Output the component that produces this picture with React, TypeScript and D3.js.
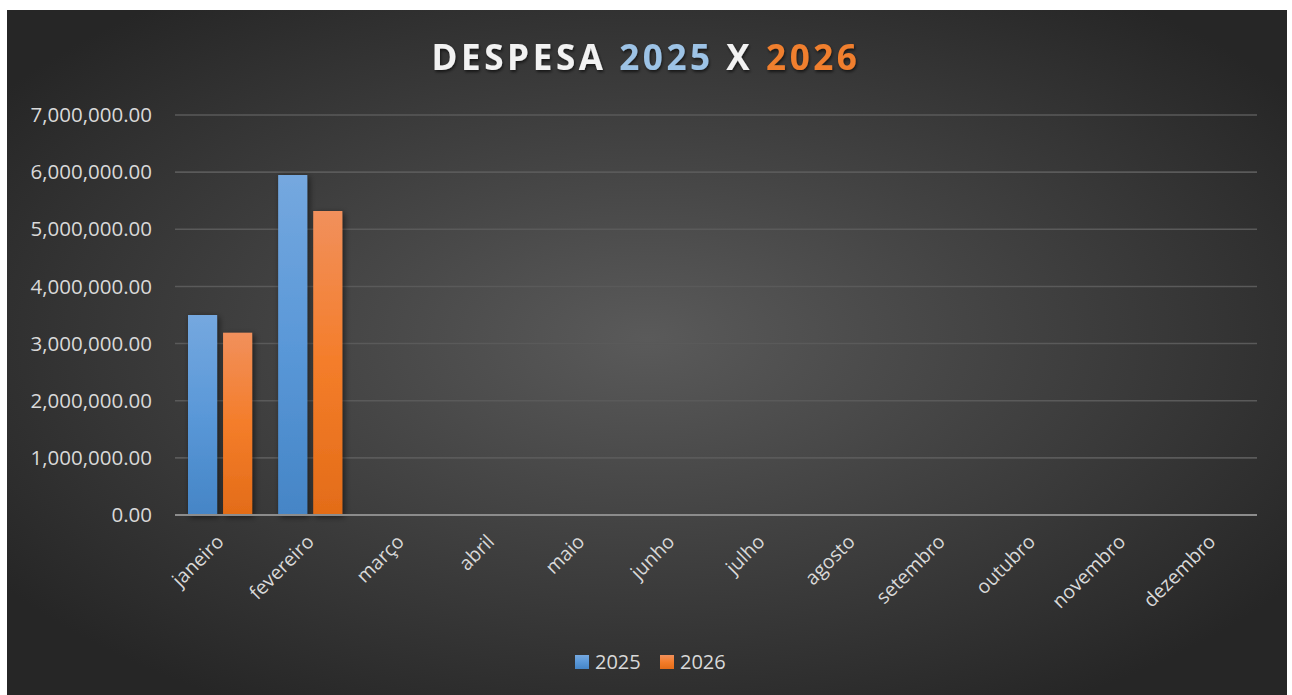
import React from "react";
import * as d3 from "d3";

// months, values
const months = [
  "janeiro",
  "fevereiro",
  "março",
  "abril",
  "maio",
  "junho",
  "julho",
  "agosto",
  "setembro",
  "outubro",
  "novembro",
  "dezembro",
];
const series = ["2025", "2026"];
const values2025 = [3500000, 5950000, 0, 0, 0, 0, 0, 0, 0, 0, 0, 0];
const values2026 = [3190000, 5320000, 0, 0, 0, 0, 0, 0, 0, 0, 0, 0];
const yTicks = [0, 1000000, 2000000, 3000000, 4000000, 5000000, 6000000, 7000000];

const W = 1292;
const H = 695;
const font = "'Open Sans', 'DejaVu Sans', sans-serif";

const App = () => {
  const left = 175;
  const right = 1257;
  const top = 115;
  const bottom = 515;

  const x = d3.scaleBand().domain(months).range([left, right]).paddingInner(0).paddingOuter(0);
  const inner = d3
    .scaleBand()
    .domain(series)
    .range([13, x.bandwidth() - 13])
    .paddingInner(0.17);
  const y = d3.scaleLinear().domain([0, 7000000]).range([bottom, top]);
  const fmt = d3.format(",.2f");

  const rows = months.map((m, i) => ({ m, v: [values2025[i], values2026[i]] }));

  return (
    <svg
      width={W}
      height={H}
      style={{ position: "absolute", left: 0, top: 0, display: "block" }}
    >
      <defs>
        <radialGradient id="bg" cx="50%" cy="48%" r="62%">
          <stop offset="0%" stopColor="#5a5a5a" />
          <stop offset="100%" stopColor="#262626" />
        </radialGradient>
        <linearGradient id="g2025" x1="0" y1="0" x2="0" y2="1">
          <stop offset="0%" stopColor="#75a8df" />
          <stop offset="50%" stopColor="#5a98d8" />
          <stop offset="100%" stopColor="#4585c6" />
        </linearGradient>
        <linearGradient id="g2026" x1="0" y1="0" x2="0" y2="1">
          <stop offset="0%" stopColor="#f1905c" />
          <stop offset="50%" stopColor="#f47d2a" />
          <stop offset="100%" stopColor="#e36c18" />
        </linearGradient>
        <filter id="shadow" x="-30%" y="-10%" width="160%" height="120%">
          <feDropShadow dx="2" dy="2" stdDeviation="3" floodColor="#000" floodOpacity="0.55" />
        </filter>
        <filter id="tshadow" x="-10%" y="-30%" width="120%" height="160%">
          <feDropShadow dx="1" dy="2" stdDeviation="1.5" floodColor="#000" floodOpacity="0.6" />
        </filter>
      </defs>

      <rect x={7} y={10} width={1280} height={685} fill="url(#bg)" />

      {/* title */}
      <text
        x={646}
        y={70}
        textAnchor="middle"
        fontFamily={font}
        fontWeight="bold"
        fontSize={35}
        letterSpacing={3.6}
        filter="url(#tshadow)"
        fill="#f2f2f2"
      >
        DESPESA <tspan fill="#9dc3e6">2025</tspan> X <tspan fill="#f07f2e">2026</tspan>
      </text>

      {/* gridlines and y labels */}
      {yTicks.map((t) => (
        <g key={t}>
          {t > 0 && (
            <line x1={left} x2={right} y1={y(t)} y2={y(t)} stroke="#5a5a5a" strokeWidth={1.6} />
          )}
          <text
            x={152}
            y={y(t)}
            dy="0.35em"
            textAnchor="end"
            fontFamily={font}
            fontSize={20.5}
            fill="#d9d9d9"
          >
            {fmt(t)}
          </text>
        </g>
      ))}

      {/* bars */}
      {rows.map((r) => (
        <g key={r.m} transform={`translate(${x(r.m)},0)`}>
          {series.map((s, j) =>
            r.v[j] > 0 ? (
              <rect
                key={s}
                x={inner(s)}
                y={y(r.v[j])}
                width={inner.bandwidth()}
                height={y(0) - y(r.v[j])}
                fill={`url(#g${s})`}
                filter="url(#shadow)"
              />
            ) : null
          )}
        </g>
      ))}

      {/* x axis */}
      <line x1={left} x2={right} y1={bottom} y2={bottom} stroke="#8c8c8c" strokeWidth={2} />

      {months.map((m) => (
        <text
          key={m}
          transform={`translate(${x(m) + x.bandwidth() / 2 + 5},${bottom + 28}) rotate(-45)`}
          textAnchor="end"
          fontFamily={font}
          fontSize={19.5}
          fill="#d9d9d9"
        >
          {m}
        </text>
      ))}

      {/* legend */}
      {series.map((s, i) => (
        <g key={s} transform={`translate(${575 + i * 85},655)`}>
          <rect width={14} height={14} fill={`url(#g${s})`} />
          <text x={20} y={7} dy="0.35em" fontFamily={font} fontSize={20} fill="#d9d9d9">
            {s}
          </text>
        </g>
      ))}
    </svg>
  );
};

export default App;
